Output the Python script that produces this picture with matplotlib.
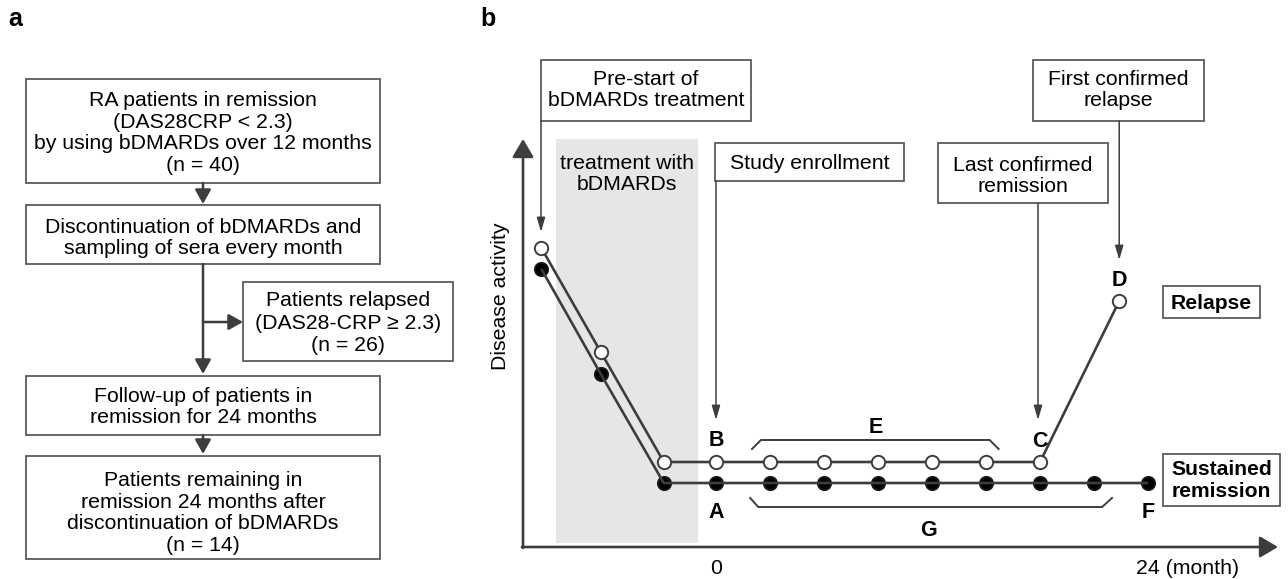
import matplotlib
matplotlib.use("Agg")
import matplotlib.pyplot as plt
from matplotlib.patches import Rectangle, FancyArrowPatch

plt.rcParams['font.family'] = ['Liberation Sans', 'DejaVu Sans']

# ---------------- panel a: cohort flow ----------------
flow_boxes = [
    ["RA patients in remission", "(DAS28CRP < 2.3)",
     "by using bDMARDs over 12 months", "(n = 40)"],
    ["Discontinuation of bDMARDs and", "sampling of sera every month"],
    ["Follow-up of patients in", "remission for 24 months"],
    ["Patients remaining in", "remission 24 months after",
     "discontinuation of bDMARDs", "(n = 14)"],
]
relapsed_box = ["Patients relapsed", "(DAS28-CRP \u2265 2.3)", "(n = 26)"]

# ---------------- panel b: disease activity course ----------------
months_relapse = [-9.7, -6.4, -2.9, 0, 3, 6, 9, 12, 15, 18, 22.4]
activity_relapse = [29.9, 19.5, 8.5, 8.5, 8.5, 8.5, 8.5, 8.5, 8.5, 8.5, 24.6]
months_sustained = [-9.7, -6.4, -2.9, 0, 3, 6, 9, 12, 15, 18, 21, 24]
activity_sustained = [27.8, 17.3, 6.4, 6.4, 6.4, 6.4, 6.4, 6.4, 6.4, 6.4, 6.4, 6.4]
treatment_window = (-8.9, -1.0)
period_E = (2.0, 15.7)
period_G = (1.9, 22.0)
x_tick_months = [0, 24]
x_tick_labels = ["0", "24 (month)"]

W, H = 1288, 579
DARK = '#3d3d3d'
EDGE = '#5a5a5a'
FS = 15.3

fig = plt.figure(figsize=(W / 100, H / 100), dpi=100)

# chart area for panel b (left/bottom axis lines sit on its edges)
ax_l, ax_r, ax_t, ax_b = 523, 1278, 139, 547
ax = fig.add_axes([ax_l / W, (H - ax_b) / H, (ax_r - ax_l) / W, (ax_b - ax_t) / H])
ax.set_xlim(-10.72, 31.22)
ax.set_ylim(0, 40.8)
ax.axis('off')
ax.patch.set_alpha(0)
ax.set_zorder(1)

# pixel-space overlay for boxes, arrows and labels
ov = fig.add_axes([0, 0, 1, 1])
ov.set_xlim(0, W)
ov.set_ylim(H, 0)
ov.axis('off')
ov.patch.set_alpha(0)
ov.set_zorder(2)


def to_px(m, a):
    d = ax.transData.transform((m, a))
    return ov.transData.inverted().transform(d)


def text_lines(x, y0, lines, step=21.7, size=FS, weight='normal', ha='center'):
    cap = 0.358 * size * 100 / 72
    for i, s in enumerate(lines):
        ov.text(x, y0 + i * step + cap, s, ha=ha, va='baseline',
                fontsize=size, fontweight=weight, color='black')


def box(x0, y0, x1, y1, lw=1.3):
    ov.add_patch(Rectangle((x0, y0), x1 - x0, y1 - y0, facecolor='white',
                           edgecolor=EDGE, lw=lw, zorder=2))


def arrow(x0, y0, x1, y1, lw, hl, hw, color=DARK):
    ov.add_patch(FancyArrowPatch((x0, y0), (x1, y1),
                                 arrowstyle=f'-|>,head_length={hl},head_width={hw}',
                                 mutation_scale=1, lw=lw, color=color,
                                 shrinkA=0, shrinkB=0, zorder=3))


# ---- panel a ----
ov.text(15, 19, 'a', ha='center', va='center', fontsize=18, fontweight='bold')
a_x0, a_x1, a_cx = 26, 380, 203
box_rows = [(79, 183, 98.3), (205, 264, 225.0), (376, 435, 394.0), (456, 559, 478.3)]
for (y0, y1, ty), lines in zip(box_rows, flow_boxes):
    box(a_x0, y0, a_x1, y1)
    text_lines(a_cx, ty, lines)
box(243, 282, 453, 361)
text_lines(348, 298.8, relapsed_box, step=22.3)

arrow(a_cx, 183, a_cx, 204, 1.8, 8.6, 4.8)
arrow(a_cx, 264, a_cx, 374, 1.8, 8.6, 4.8)
arrow(a_cx, 322, 243, 322, 1.8, 8.6, 4.8)
arrow(a_cx, 435, a_cx, 454, 1.8, 8.6, 4.8)

# ---- panel b ----
ov.text(488, 19, 'b', ha='center', va='center', fontsize=18, fontweight='bold')

# treatment period shading
ax.axvspan(*treatment_window, ymin=0.01, ymax=1.0, color='#e6e6e6', lw=0, zorder=0)
tx = to_px(sum(treatment_window) / 2, 0)[0]
text_lines(tx, 161.7, ["treatment with", "bDMARDs"], step=21.0)

# axes with arrow heads
arrow(ax_l, ax_b + 1, ax_l, ax_t, 1.9, 11, 6.5)
arrow(ax_l - 1, ax_b, ax_r, ax_b, 1.9, 11, 6.5)

ov.text(506, 296.5, 'Disease activity', rotation=90, rotation_mode='anchor',
        ha='center', va='baseline', fontsize=FS)
for m, lab in zip(x_tick_months, x_tick_labels):
    px = to_px(m, 0)[0]
    if lab.startswith(str(m)) and len(lab) > len(str(m)):
        ov.text(px - 12, 574.2, lab, ha='left', va='baseline', fontsize=FS)
    else:
        ov.text(px, 574.2, lab, ha='center', va='baseline', fontsize=FS)

# disease-activity courses
ax.plot(months_sustained, activity_sustained, ls='none', marker='o', ms=9.6,
        mfc='black', mec='#1a1a1a', mew=1.3, zorder=2, clip_on=False)
ax.plot(months_sustained, activity_sustained, color=DARK, lw=1.9, zorder=3,
        solid_capstyle='butt', clip_on=False)
ax.plot(months_relapse, activity_relapse, color=DARK, lw=1.9, zorder=4,
        solid_capstyle='butt', clip_on=False)
ax.plot(months_relapse, activity_relapse, ls='none', marker='o', ms=9.6,
        mfc='white', mec=DARK, mew=1.4, zorder=5, clip_on=False)

# brackets for periods E and G
lvl_r = activity_relapse[3]
lvl_s = activity_sustained[3]
eL, eR = period_E
gL, gR = period_G
ax.plot([eL, eL + 0.5, eR - 0.5, eR], [lvl_r + 1.3, lvl_r + 2.2, lvl_r + 2.2, lvl_r + 1.3],
        color=DARK, lw=1.4, solid_joinstyle='miter', clip_on=False)
ax.plot([gL, gL + 0.45, gR - 0.55, gR], [lvl_s - 1.5, lvl_s - 2.4, lvl_s - 2.4, lvl_s - 1.5],
        color=DARK, lw=1.4, solid_joinstyle='miter', clip_on=False)

BFS = 15.5


def letter(m, a, dy, s):
    x, y = to_px(m, a)
    ov.text(x, y + dy + 0.358 * BFS * 100 / 72, s, ha='center', va='baseline',
            fontsize=BFS, fontweight='bold')


letter(months_relapse[3], lvl_r, -23.7, 'B')
letter(months_sustained[3], lvl_s, 27.0, 'A')
letter(months_relapse[9], lvl_r, -22.7, 'C')
letter(months_relapse[-1], activity_relapse[-1], -22.7, 'D')
letter(months_sustained[-1], lvl_s, 27.0, 'F')
letter(8.9, lvl_r + 2.2, -15.0, 'E')
letter(11.8, lvl_s - 2.4, 21.3, 'G')

# annotation boxes with pointer arrows
BLW, BHL, BHW = 1.1, 8.6, 2.5

box(541, 60, 751, 121)
text_lines(646, 77.7, ["Pre-start of", "bDMARDs treatment"], step=20.8)
p0 = to_px(months_relapse[0], activity_relapse[0])
arrow(541, 121, 541, p0[1] - 16, BLW, BHL, BHW)

box(715, 143, 904, 181)
text_lines(809.5, 161.7, ["Study enrollment"])
pB = to_px(months_relapse[3], lvl_r)
arrow(pB[0], 181, pB[0], pB[1] - 42, BLW, BHL, BHW)

box(938, 143, 1108, 203)
text_lines(1023, 163.3, ["Last confirmed", "remission"], step=21.0)
pC = to_px(months_relapse[9], lvl_r)
arrow(pC[0] - 2, 203, pC[0] - 2, pC[1] - 42, BLW, BHL, BHW)

box(1033, 60, 1204, 121)
text_lines(1118.5, 77.7, ["First confirmed", "relapse"], step=20.8)
pD = to_px(months_relapse[-1], activity_relapse[-1])
arrow(pD[0], 121, pD[0], pD[1] - 41, BLW, BHL, BHW)

# outcome labels
box(1163, 286, 1260, 318)
text_lines(1211.5, 301.7, ["Relapse"], weight='bold', size=15.2)
box(1163, 454, 1280, 506)
text_lines(1221.5, 467.7, ["Sustained", "remission"], step=21.6, weight='bold', size=15.2)

fig.savefig('out.png', dpi=100)
